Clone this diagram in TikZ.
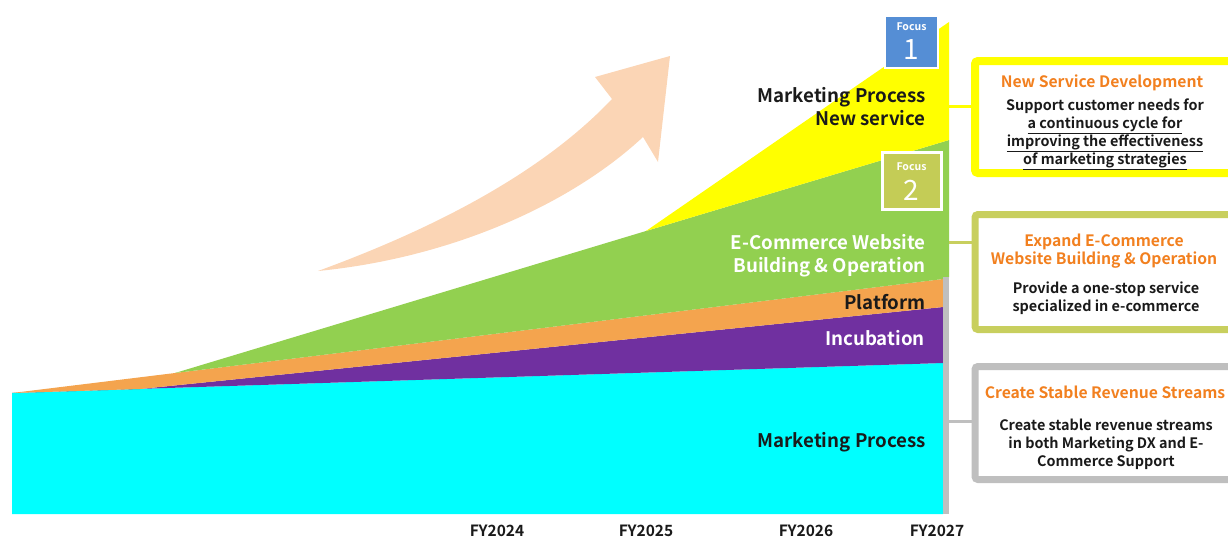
\documentclass[tikz,border=0pt]{standalone}
\usepackage{fontspec}
\setmainfont{Noto Sans CJK JP}[BoldFont=* Bold]
\definecolor{cyanA}{HTML}{00FFFF}
\definecolor{purpleA}{HTML}{7030A0}
\definecolor{orangeA}{HTML}{F4A44E}
\definecolor{greenA}{HTML}{92D050}
\definecolor{yellowA}{HTML}{FFFF00}
\definecolor{grayA}{HTML}{BFBFBF}
\definecolor{peach}{HTML}{FBD5B5}
\definecolor{focusblue}{HTML}{558ED5}
\definecolor{olive}{HTML}{C4CC56}
\definecolor{oliveline}{HTML}{C8CF5E}
\definecolor{titleorange}{HTML}{F2801F}
\definecolor{ink}{HTML}{1A1A1A}
\tikzset{
  lbl/.style={anchor=east,align=right,font=\bfseries\fontsize{18.7}{23}\selectfont,inner sep=0pt},
  card/.style={draw,fill=white,rounded corners=3pt,minimum width=257pt,inner sep=0pt,outer sep=0pt},
  cardtitle/.style={text=titleorange,align=center,font=\bfseries\fontsize{15.7}{18}\selectfont,inner sep=0pt},
  cardbody/.style={text=ink,align=center,font=\bfseries\fontsize{14.4}{17.8}\selectfont,inner sep=0pt},
  focusbox/.style={draw=white,inner sep=0pt,outer sep=0pt},
  focuslbl/.style={text=white,font=\bfseries\fontsize{10.5}{11}\selectfont,inner sep=0pt},
  focusnum/.style={text=white,font=\fontsize{28}{29}\selectfont,inner sep=0pt},
  yearlbl/.style={text=ink,font=\bfseries\fontsize{15.5}{17}\selectfont,inner sep=0pt},
  link/.style={line width=3pt}
}
\begin{document}
\begin{tikzpicture}[x=1pt,y=-1pt]
\useasboundingbox (0,0) rectangle (1228,539);
\clip (0,0) rectangle (1228,539);

% growth arrow
\fill[peach] (318,271) .. controls (430,230) and (540,175) .. (612,99)
  -- (595,77) -- (670,56) -- (658,162) -- (643,137)
  .. controls (570,205) and (450,258) .. (318,271) -- cycle;

% stacked areas
\fill[cyanA] (12,514) -- (12,393) -- (943,363) -- (943,514) -- cycle;
\fill[purpleA] (12,393) -- (140,389) -- (943,307) -- (943,363) -- cycle;
\fill[orangeA] (12,393) -- (175,373) -- (943,279) -- (943,307) -- (140,389) -- cycle;
\fill[greenA] (175,373) -- (646,231) -- (949,140) -- (949,277) -- (943,279) -- cycle;
\fill[yellowA] (646,231) -- (949,22) -- (949,140) -- cycle;
\fill[grayA] (943,277) rectangle (949,514);

% focus badges
\node[focusbox,fill=focusblue,line width=2pt,minimum width=53pt,minimum height=52pt] (f1) at (911.5,42) {};
\node[focuslbl] (f1a) at (911.5,27) {Focus};
\node[focusnum] (f1b) at (911.5,50) {1};
\node[focusbox,fill=olive,line width=3pt,minimum width=59pt,minimum height=57pt] (f2) at (911.5,180.5) {};
\node[focuslbl] (f2a) at (911.5,167) {Focus};
\node[focusnum] (f2b) at (911.5,190) {2};

% area labels
\node[lbl,text=ink] (ms) at (926,107) {Marketing Process\\New service};
\node[lbl,text=white] (ec) at (926,256) {E-Commerce Website\\Building \& Operation};
\node[lbl,text=ink] (pf) at (926,302) {Platform};
\node[lbl,text=white] (ic) at (925,338) {Incubation};
\node[lbl,text=ink] (mp) at (926,442) {Marketing Process};

% year axis
\node[yearlbl] (y24) at (497,531) {FY2024};
\node[yearlbl] (y25) at (646,531) {FY2025};
\node[yearlbl] (y26) at (806,531) {FY2026};
\node[yearlbl] (y27) at (937,531) {FY2027};

% callout cards
\node[card,draw=yellowA,line width=8pt,minimum height=112pt] (c1) at (1103.5,117) {};
\node[card,draw=oliveline,line width=7pt,minimum height=115pt] (c2) at (1103.5,272) {};
\node[card,draw=grayA,line width=7pt,minimum height=113pt] (c3) at (1103.5,423) {};

\coordinate (e1) at (949,106);
\coordinate (e2) at (949,242);
\coordinate (e3) at (946,421);
\draw[link,yellowA] (e1) -- (c1.west |- e1);
\draw[link,oliveline] (e2) -- (c2.west |- e2);
\draw[link,grayA] (e3) -- (c3.west |- e3);

\node[cardtitle] (t1) at (1102,83) {New Service Development};
\node[cardbody,anchor=north] (b1) at (1105,99) {Support customer needs for\\
  \underline{a continuous cycle for}\\
  \underline{improving the effectiveness}\\
  \underline{of marketing strategies}};

\node[cardtitle,align=center] (t2) at (1104,251.5) {Expand E-Commerce\\Website Building \& Operation};
\node[cardbody] (b2) at (1106,298.5) {Provide a one-stop service\\specialized in e-commerce};

\node[cardtitle] (t3) at (1105,392) {Create Stable Revenue Streams};
\node[cardbody] (b3) at (1106,444) {Create stable revenue streams\\in both Marketing DX and E-\\Commerce Support};
\end{tikzpicture}
\end{document}
